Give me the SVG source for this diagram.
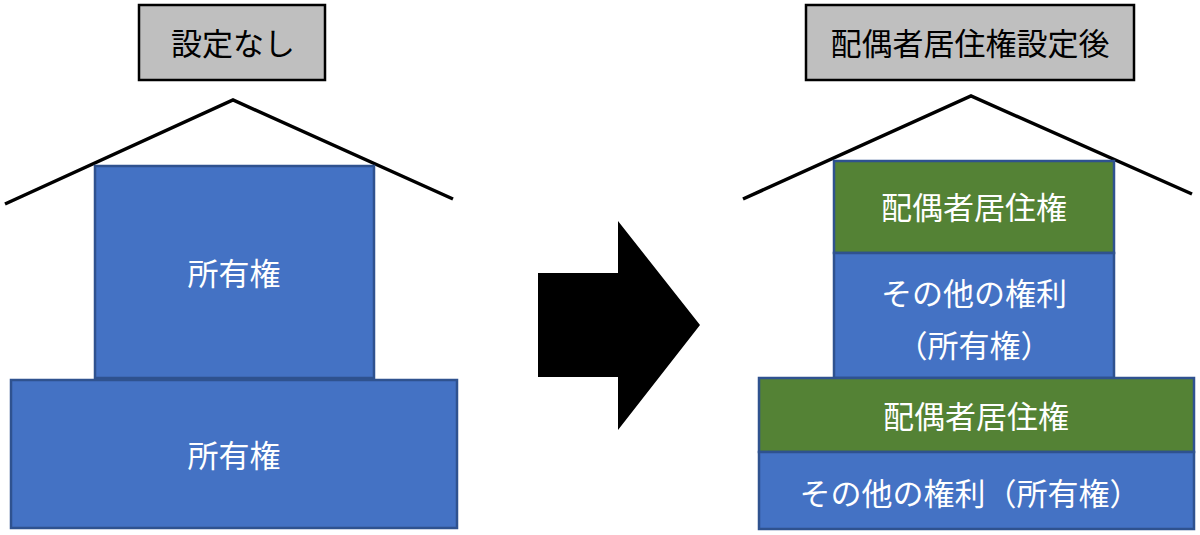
<svg xmlns="http://www.w3.org/2000/svg" width="1200" height="535" viewBox="0 0 1200 535">
<style>
.title{fill:#bfbfbf;stroke:#000;stroke-width:2.5}
.roof{fill:none;stroke:#000;stroke-width:3.5;stroke-linejoin:miter}
.blue{fill:#4472c4;stroke:#2f528f;stroke-width:2.5}
.green{fill:#548235;stroke:#2f528f;stroke-width:2.5}
text{font-family:"Noto Sans CJK JP","Noto Sans CJK SC",sans-serif;font-size:31px;text-anchor:middle;dominant-baseline:central}
.tt{fill:#000}
.wt{fill:#fff}
</style>
<rect width="1200" height="535" fill="#fff"/>
<g id="roofs">
<polyline class="roof" points="5,204 233,100 453,199"/>
<polyline class="roof" points="743,199 971,96 1192,194"/>
</g>
<g id="title-left"><rect class="title" x="139" y="5" width="186" height="75"/><text class="tt" x="233" y="41">設定なし</text></g>
<g id="title-right"><rect class="title" x="806" y="5" width="328" height="75"/><text class="tt" x="970" y="41">配偶者居住権設定後</text></g>
<g id="left-upper"><rect class="blue" x="95" y="166" width="279" height="212"/><text class="wt" x="234" y="271">所有権</text></g>
<g id="left-lower"><rect class="blue" x="11" y="380" width="446" height="148"/><text class="wt" x="234" y="453">所有権</text></g>
<g id="connectors"><polygon fill="#000" points="538,273 618,273 618,221 700,325 618,430 618,377 538,377"/></g>
<g id="right-upper-green"><rect class="green" x="834" y="161" width="280" height="92"/><text class="wt" x="974" y="205">配偶者居住権</text></g>
<g id="right-upper-blue"><rect class="blue" x="834" y="253" width="280" height="125"/><text class="wt" x="974" y="291">その他の権利</text><text class="wt" x="974" y="343">（所有権）</text></g>
<g id="right-lower-green"><rect class="green" x="759" y="378" width="435" height="74"/><text class="wt" x="976" y="414">配偶者居住権</text></g>
<g id="right-lower-blue"><rect class="blue" x="759" y="452" width="435" height="77"/><text class="wt" x="970" y="491">その他の権利（所有権）</text></g>
</svg>
